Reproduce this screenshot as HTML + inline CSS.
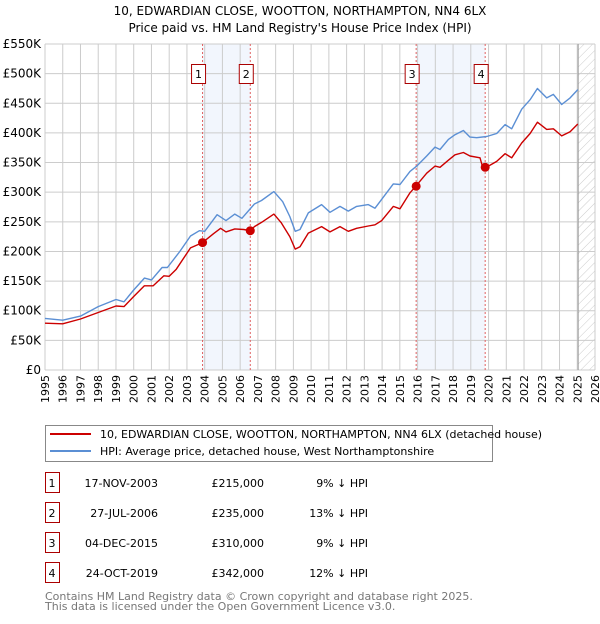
<!DOCTYPE html>
<html><head><meta charset="utf-8"><style>
body{margin:0;background:#fff;font-family:"DejaVu Sans","Liberation Sans",sans-serif;}
svg text{font-family:"DejaVu Sans","Liberation Sans",sans-serif;}
</style></head><body>
<svg id="c" width="600" height="620" xmlns="http://www.w3.org/2000/svg">
<defs><pattern id="hatch" width="6" height="6" patternUnits="userSpaceOnUse" patternTransform="rotate(45)"><line x1="0" y1="0" x2="0" y2="6" stroke="#ccc" stroke-width="1"/></pattern></defs>
<text x="300" y="15" text-anchor="middle" font-size="12">10, EDWARDIAN CLOSE, WOOTTON, NORTHAMPTON, NN4 6LX</text>
<text x="300" y="32" text-anchor="middle" font-size="12">Price paid vs. HM Land Registry's House Price Index (HPI)</text>
<g id="plot"></g>
<g>
<rect x="45.5" y="425.5" width="447" height="36" fill="#fff" stroke="#888"/>
<line x1="50" y1="434" x2="91" y2="434" stroke="#cc0000" stroke-width="2"/>
<text x="100" y="438" font-size="11">10, EDWARDIAN CLOSE, WOOTTON, NORTHAMPTON, NN4 6LX (detached house)</text>
<line x1="50" y1="451" x2="91" y2="451" stroke="#5b8fd4" stroke-width="2"/>
<text x="100" y="455" font-size="11">HPI: Average price, detached house, West Northamptonshire</text>
</g>
<g id="table" font-size="11"></g>
<text x="45" y="600" font-size="11" fill="#777">Contains HM Land Registry data © Crown copyright and database right 2025.</text>
<text x="45" y="610" font-size="11" fill="#777">This data is licensed under the Open Government Licence v3.0.</text>
</svg>
<script>
const R=2009.37, S=53.2;
function ry(px){return R+px/S;}
const hpiYears=[1995,1996,1997,1998,1999,1999.45,2000,2000.6,2001.0,2001.6,2001.9,2002.6,2003.2,2003.7,2004.0,2004.7,2005.2,2005.7,2006.1,2006.8,2007.2,2007.9,2008.4,2008.8,2009.1,ry(0),ry(25),ry(65),ry(90),ry(120),ry(145),ry(170),ry(205),ry(225),ry(245),ry(280),ry(300),ry(330),ry(350),ry(380),ry(405),ry(420),ry(445),ry(465),ry(490),ry(510),ry(530),ry(560),ry(590),ry(615),ry(635),ry(665),ry(690),ry(712),ry(740),ry(760),ry(785),ry(810),ry(833)];
const hpiValues=[87,84,91,107,119,115,135,155,152,173,173,200,226,235,234,262,252,263,256,280,286,301,284,259,234,237,265,279,266,276,268,276,279,273,288,314,313,335,344,361,376,372,389,397,404,393,392,394,399,414,407,440,456,475,459,465,448,459,473];
const redYears=[1995,1996,1997,1998,1999,1999.45,2000,2000.6,2001.1,2001.7,2002.0,2002.4,2003.2,2003.88,2004.5,2004.9,2005.2,2005.7,2006.2,2006.57,2006.8,2007.2,2007.9,2008.3,2008.8,2009.1,ry(0),ry(25),ry(65),ry(90),ry(120),ry(145),ry(170),ry(205),ry(225),ry(245),ry(280),ry(300),ry(330),ry(347),ry(380),ry(405),ry(420),ry(445),ry(465),ry(490),ry(510),ry(540),ry(548),ry(565),ry(590),ry(615),ry(635),ry(665),ry(690),ry(712),ry(740),ry(760),ry(785),ry(810),ry(833)];
const redValues=[79,78,86,97,108,107,124,142,142,159,158,170,206,215,230,239,233,238,237,235,242,249,263,249,225,204,208,231,242,233,242,234,239,243,245,252,276,272,299,310,332,344,342,354,363,367,361,358,342,344,352,365,358,383,399,418,406,407,395,402,415];
const saleLabels=["1","2","3","4"];
const saleYears=[2003.88,2006.57,2015.92,2019.81];
const saleValues=[215,235,310,342];
const saleDates=["17-NOV-2003","27-JUL-2006","04-DEC-2015","24-OCT-2019"];
const salePrices=["£215,000","£235,000","£310,000","£342,000"];
const saleHpi=["9% ↓ HPI","13% ↓ HPI","9% ↓ HPI","12% ↓ HPI"];
const yTicks=[0,50,100,150,200,250,300,350,400,450,500,550];
const yTickLabels=["£0","£50K","£100K","£150K","£200K","£250K","£300K","£350K","£400K","£450K","£500K","£550K"];
const xTicks=[];for(let y=1995;y<=2026;y++)xTicks.push(y);

const NS="http://www.w3.org/2000/svg";
const X0=45,X1=595,Y0=370,Y1=44;
const xs=y=>X0+(y-1995)/31*(X1-X0);
const ys=v=>Y0-v/550*(Y0-Y1);
const plot=document.getElementById('plot');
function mk(tag,attrs,parent){const e=document.createElementNS(NS,tag);for(const k in attrs)e.setAttribute(k,attrs[k]);(parent||plot).appendChild(e);return e;}
for(let i=0;i<4;i+=2){
 const r=mk('rect',{x:xs(saleYears[i]),y:Y1,width:xs(saleYears[i+1])-xs(saleYears[i]),height:Y0-Y1,fill:'#f2f6fd'});
 
 
}
const h=mk('rect',{x:xs(2025.05),y:Y1,width:X1-xs(2025.05),height:Y0-Y1,fill:'url(#hatch)'});


xTicks.forEach(y=>{const l=mk('line',{x1:xs(y),x2:xs(y),y1:Y1,y2:Y0,stroke:'#ccc','stroke-width':1});
 
 
 const t=mk('text',{x:0,y:0,'font-size':11,'text-anchor':'end',transform:`translate(${xs(y)+4},${Y0+5}) rotate(-90)`});t.textContent=y;
 
 
});
yTicks.forEach((v,i)=>{const l=mk('line',{x1:X0,x2:X1,y1:ys(v),y2:ys(v),stroke:'#ccc','stroke-width':1});
 
 
 const t=mk('text',{x:X0-4,y:ys(v)+4,'font-size':12,'text-anchor':'end'});t.textContent=yTickLabels[i];
 
 
});
const vl=mk('line',{x1:xs(2025.05),x2:xs(2025.05),y1:Y1,y2:Y0,stroke:'#999','stroke-width':1});


saleYears.forEach((y,i)=>{
 const l=mk('line',{x1:xs(y),x2:xs(y),y1:Y1,y2:Y0,stroke:'#e06060','stroke-width':1,'stroke-dasharray':'2,2'});
 
 
 const b=mk('rect',{x:xs(y)-11,y:64.5,width:14,height:19,fill:'#fff',stroke:'#aa0000'});
 
 
 const t=mk('text',{x:xs(y)-4,y:78,'font-size':11,'text-anchor':'middle'});t.textContent=saleLabels[i];
 
 
});
function line(yrs,vals,col,name){const d=yrs.map((y,i)=>(i?'L':'M')+xs(y).toFixed(1)+','+ys(vals[i]).toFixed(1)).join('');
 const p=mk('path',{d:d,fill:'none',stroke:col,'stroke-width':1.4,'stroke-linejoin':'round'});
 
 }
line(hpiYears,hpiValues,'#5b8fd4','hpi-line');
line(redYears,redValues,'#cc0000','property-price-line');
saleYears.forEach((y,i)=>{const c=mk('circle',{cx:xs(y),cy:ys(saleValues[i]),r:4.5,fill:'#cc0000'});
 
 });
const tb=document.getElementById('table');
saleLabels.forEach((s,i)=>{const cy=483+i*30;
 const b=mk('rect',{x:45.5,y:cy-10.5,width:14,height:20,fill:'#fff',stroke:'#aa0000'},tb);
 
 
 const cells=[[52,'middle',s,'table-row-number'],[158,'end',saleDates[i],'table-date'],[264,'end',salePrices[i],'table-price'],[368,'end',saleHpi[i],'table-hpi-diff']];
 cells.forEach(c=>{const t=mk('text',{x:c[0],y:cy+4,'text-anchor':c[1],'font-size':11},tb);t.textContent=c[2];
  
  });
});
</script>
</body></html>
